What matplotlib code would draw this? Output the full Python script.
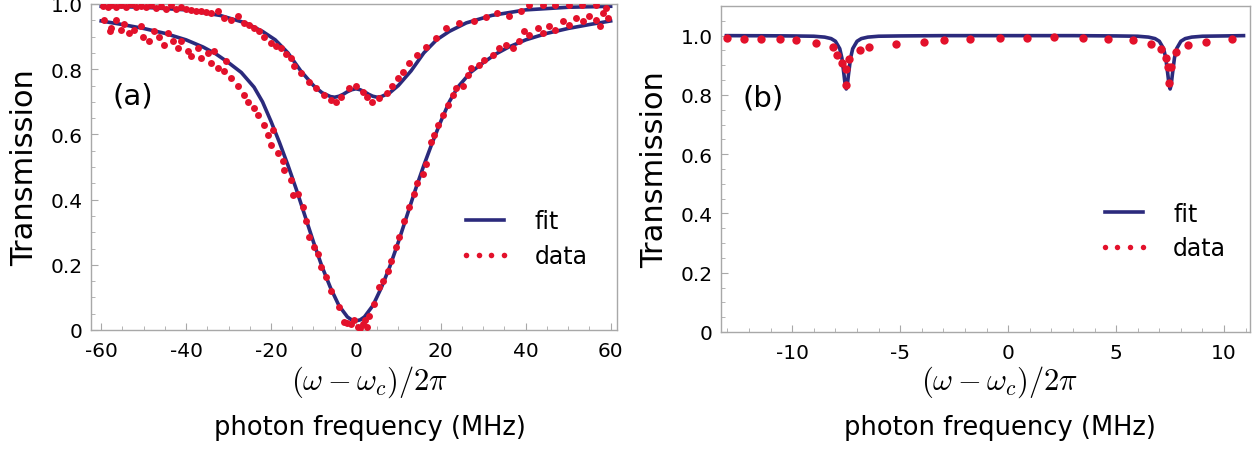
import matplotlib.pyplot as plt
from matplotlib.ticker import MultipleLocator, FuncFormatter

# ---- panel (a) : fit curves ----
a_fit_upper_x = [-60, -50, -40, -32, -26, -22, -19, -16, -13, -10, -8, -6, -5, -4, -3, -2, -1, 0,
                 1, 2, 3, 4, 5, 6, 8, 10, 13, 16, 19, 22, 26, 32, 40, 50, 60]
a_fit_upper_y = [0.993, 0.99, 0.982, 0.965, 0.942, 0.916, 0.89, 0.85, 0.795, 0.75, 0.728, 0.716, 0.714,
                 0.717, 0.723, 0.731, 0.737, 0.74, 0.737, 0.731, 0.723, 0.717, 0.714, 0.716, 0.728, 0.75,
                 0.795, 0.85, 0.89, 0.916, 0.942, 0.965, 0.982, 0.99, 0.993]

a_fit_lower_x = [-60, -55, -50, -45, -40, -36, -33, -30, -27, -24, -22, -20, -18, -16, -14, -12, -10, -8,
                 -6, -4, -2, -1, 0, 1, 2, 4, 6, 8, 10, 12, 14, 16, 18, 20, 22, 24, 27, 30, 33, 36, 40,
                 45, 50, 55, 60]
a_fit_lower_y = [0.948, 0.937, 0.925, 0.91, 0.89, 0.868, 0.847, 0.82, 0.79, 0.745, 0.70, 0.64, 0.575,
                 0.505, 0.43, 0.35, 0.27, 0.195, 0.13, 0.075, 0.04, 0.031, 0.028, 0.031, 0.04, 0.075,
                 0.13, 0.195, 0.27, 0.35, 0.43, 0.505, 0.575, 0.64, 0.70, 0.745, 0.79, 0.82, 0.847,
                 0.868, 0.89, 0.91, 0.925, 0.937, 0.948]

# ---- panel (a) : measured points (x MHz, transmission) ----
a_data_upper = [
    (-59.5, 0.994), (-58.5, 0.99), (-57.6, 0.997), (-56.4, 0.992), (-55.3, 0.996), (-54.2, 0.99),
    (-52.9, 1.0), (-51.8, 0.992), (-50.6, 0.994), (-49.4, 0.99), (-48.2, 0.997), (-47.0, 0.988),
    (-45.9, 0.994), (-44.7, 0.986), (-43.5, 0.996), (-42.3, 0.985), (-41.2, 0.99), (-40.0, 0.986),
    (-38.8, 0.983), (-37.6, 0.978), (-36.5, 0.98), (-35.3, 0.975), (-34.1, 0.972), (-32.5, 0.977),
    (-31.0, 0.957), (-29.4, 0.952), (-27.8, 0.963), (-26.4, 0.941), (-25.2, 0.935), (-24.0, 0.926),
    (-22.8, 0.918), (-21.6, 0.90), (-20.0, 0.88), (-18.8, 0.872), (-17.6, 0.865), (-16.4, 0.848),
    (-15.3, 0.834), (-14.5, 0.81), (-12.9, 0.787), (-11.0, 0.762), (-9.4, 0.741), (-7.5, 0.72),
    (-5.9, 0.705), (-4.6, 0.70), (-3.5, 0.716), (-1.6, 0.741), (0.0, 0.75), (1.6, 0.73),
    (2.7, 0.716), (3.9, 0.70), (5.5, 0.713), (7.4, 0.726), (8.6, 0.75), (9.8, 0.772),
    (11.0, 0.79), (12.4, 0.818), (14.5, 0.844), (16.5, 0.867), (18.9, 0.897), (21.2, 0.926),
    (24.2, 0.941), (27.7, 0.948), (30.6, 0.959), (33.3, 0.972), (36.0, 0.963), (38.8, 0.978),
    (40.7, 0.997), (44.0, 0.996), (47.0, 0.997), (50.2, 0.996), (53.3, 0.996), (56.5, 0.996),
    (58.8, 0.988),
]
a_data_lower = [
    (-59.3, 0.952), (-58.0, 0.916), (-57.6, 0.926), (-56.5, 0.952), (-55.3, 0.92), (-54.6, 0.94),
    (-53.4, 0.91), (-52.2, 0.92), (-50.6, 0.932), (-50.1, 0.90), (-48.7, 0.886), (-47.5, 0.916),
    (-46.4, 0.90), (-45.2, 0.874), (-44.3, 0.91), (-43.0, 0.886), (-41.9, 0.865), (-41.2, 0.886),
    (-39.5, 0.855), (-38.8, 0.84), (-37.2, 0.865), (-36.5, 0.834), (-34.9, 0.85), (-34.1, 0.818),
    (-33.4, 0.855), (-32.5, 0.803), (-31.0, 0.793), (-30.6, 0.824), (-29.4, 0.772), (-27.8, 0.748),
    (-26.4, 0.72), (-25.4, 0.70), (-24.0, 0.68), (-23.1, 0.66), (-21.6, 0.628), (-20.7, 0.597),
    (-19.5, 0.613), (-20.0, 0.567), (-18.4, 0.542), (-17.2, 0.517), (-16.9, 0.49), (-15.3, 0.46),
    (-14.8, 0.413), (-13.6, 0.418), (-12.5, 0.378), (-11.7, 0.335), (-11.0, 0.286), (-9.9, 0.255),
    (-9.0, 0.234), (-8.2, 0.194), (-7.1, 0.163), (-5.9, 0.12), (-4.0, 0.07), (-2.8, 0.025),
    (-2.0, 0.02), (-1.2, 0.018), (-0.5, 0.03), (0.4, 0.01), (1.0, 0.005), (1.6, 0.018), (2.2, 0.03),
    (2.7, 0.01), (3.1, 0.043), (4.2, 0.08), (5.4, 0.132), (6.3, 0.151), (7.5, 0.182), (8.2, 0.212),
    (9.4, 0.255), (10.1, 0.286), (11.3, 0.335), (12.5, 0.378), (13.7, 0.418), (14.5, 0.45),
    (15.8, 0.48), (16.5, 0.51), (17.6, 0.578), (18.4, 0.597), (19.3, 0.628), (20.5, 0.66),
    (21.6, 0.69), (22.8, 0.72), (23.5, 0.741), (25.2, 0.75), (26.4, 0.782), (27.1, 0.803),
    (28.9, 0.813), (30.1, 0.828), (32.2, 0.844), (33.6, 0.865), (35.3, 0.874), (36.9, 0.865),
    (38.4, 0.886), (39.5, 0.917), (40.7, 0.905), (42.8, 0.926), (44.0, 0.91), (45.4, 0.932),
    (47.0, 0.92), (48.7, 0.948), (50.1, 0.935), (51.8, 0.957), (53.4, 0.948), (54.8, 0.963),
    (56.5, 0.952), (57.6, 0.932), (58.1, 0.972), (59.3, 0.957),
]

# ---- panel (b) ----
b_fit_x = [-13.05, -11, -10, -9.5, -9, -8.5, -8.2, -8.0, -7.8, -7.7, -7.6, -7.55, -7.5, -7.45, -7.4,
           -7.3, -7.2, -7.0, -6.8, -6.5, -6, -5, -3, 0, 3, 5, 6, 6.5, 6.8, 7.0, 7.2, 7.3, 7.4, 7.45,
           7.5, 7.55, 7.6, 7.7, 7.8, 8.0, 8.2, 8.5, 9, 10, 10.9]
b_fit_y = [1.0, 0.9995, 0.999, 0.9985, 0.998, 0.995, 0.99, 0.981, 0.956, 0.924, 0.866, 0.834, 0.82,
           0.834, 0.866, 0.924, 0.956, 0.981, 0.99, 0.995, 0.998, 0.999, 1.0, 1.0, 1.0, 0.999, 0.998,
           0.995, 0.99, 0.981, 0.956, 0.924, 0.866, 0.834, 0.82, 0.834, 0.866, 0.924, 0.956, 0.981,
           0.99, 0.995, 0.998, 0.999, 1.0]
b_data = [
    (-13.04, 0.992), (-12.25, 0.990), (-11.43, 0.990), (-10.58, 0.990), (-9.84, 0.984), (-8.91, 0.975),
    (-8.12, 0.962), (-7.94, 0.933), (-7.70, 0.908), (-7.52, 0.886), (-7.52, 0.835), (-7.38, 0.921),
    (-6.87, 0.951), (-6.45, 0.961), (-5.20, 0.973), (-3.90, 0.977), (-2.97, 0.984), (-1.76, 0.990),
    (-0.37, 0.992), (0.87, 0.992), (2.13, 0.994), (3.47, 0.992), (4.64, 0.990), (5.80, 0.984),
    (6.63, 0.973), (7.10, 0.955), (7.29, 0.926), (7.38, 0.893), (7.56, 0.893), (7.47, 0.841),
    (7.75, 0.944), (8.31, 0.970), (9.14, 0.978), (10.35, 0.987),
]

FIT_COLOR = '#2b2a7c'
DATA_COLOR = '#e3112b'
SPINE_COLOR = '#a8a8a8'

plt.rcParams['font.family'] = 'DejaVu Sans'
plt.rcParams['mathtext.fontset'] = 'cm'
plt.rcParams['axes.unicode_minus'] = False

fig = plt.figure(figsize=(12.58, 4.52), dpi=100)
W, H = 1258, 452
ax_a = fig.add_axes([91 / W, (H - 331) / H, 526 / W, 326 / H])
ax_b = fig.add_axes([721 / W, (H - 333) / H, 529 / W, 326 / H])


def ylab(v, pos):
    return '0' if abs(v) < 1e-9 else '%.1f' % v


def style(ax, xmaj, xmin):
    for s in ax.spines.values():
        s.set_color(SPINE_COLOR)
        s.set_linewidth(1.0)
    ax.xaxis.set_major_locator(MultipleLocator(xmaj))
    ax.xaxis.set_minor_locator(MultipleLocator(xmin))
    ax.yaxis.set_major_locator(MultipleLocator(0.2))
    ax.yaxis.set_minor_locator(MultipleLocator(0.05))
    ax.yaxis.set_major_formatter(FuncFormatter(ylab))
    ax.tick_params(which='both', direction='in', color=SPINE_COLOR, top=False, right=False)
    ax.tick_params(which='major', length=5, labelsize=14.5)
    ax.tick_params(which='minor', length=3)
    ax.tick_params(axis='x', pad=8)
    ax.tick_params(axis='y', pad=6)
    ax.set_ylabel('Transmission', fontsize=22, labelpad=8)


# panel (a)
ax_a.plot(a_fit_upper_x, a_fit_upper_y, color=FIT_COLOR, lw=2.6, label='fit', zorder=2)
ax_a.plot(a_fit_lower_x, a_fit_lower_y, color=FIT_COLOR, lw=2.6, zorder=2)
ax_a.plot([p[0] for p in a_data_upper], [p[1] for p in a_data_upper], 'o', color=DATA_COLOR,
          ms=5, mec='none', label='data', zorder=3)
ax_a.plot([p[0] for p in a_data_lower], [p[1] for p in a_data_lower], 'o', color=DATA_COLOR,
          ms=5, mec='none', zorder=3)
ax_a.set_xlim(-62.4, 61.5)
ax_a.set_ylim(0, 1.0)
style(ax_a, 20, 5)
ax_a.text(0.04, 0.72, '(a)', transform=ax_a.transAxes, fontsize=21, va='center')
ax_a.legend(loc='center left', bbox_to_anchor=(0.70, 0.28), frameon=False, fontsize=17,
            numpoints=4, markerscale=0.8, handlelength=2.2, handletextpad=1.0,
            labelspacing=0.45, borderpad=0, borderaxespad=0)

# panel (b)
ax_b.plot(b_fit_x, b_fit_y, color=FIT_COLOR, lw=2.6, label='fit', zorder=2)
ax_b.plot([p[0] for p in b_data], [p[1] for p in b_data], 'o', color=DATA_COLOR,
          ms=6, mec='none', label='data', zorder=3)
ax_b.set_xlim(-13.3, 11.2)
ax_b.set_ylim(0, 1.1)
style(ax_b, 5, 1)
ax_b.text(0.04, 0.72, '(b)', transform=ax_b.transAxes, fontsize=21, va='center')
ax_b.legend(loc='center left', bbox_to_anchor=(0.712, 0.31), frameon=False, fontsize=17,
            numpoints=4, markerscale=0.65, handlelength=2.2, handletextpad=1.0,
            labelspacing=0.45, borderpad=0, borderaxespad=0)

# two-line x labels
for cx in (370 / W, 1000 / W):
    fig.text(cx, (H - 382) / H, r'$(\omega-\omega_c)/2\pi$', fontsize=22, ha='center', va='center')
    fig.text(cx, (H - 428) / H, 'photon frequency (MHz)', fontsize=18.5, ha='center', va='center')

fig.savefig('out.png', dpi=100, facecolor='white')
